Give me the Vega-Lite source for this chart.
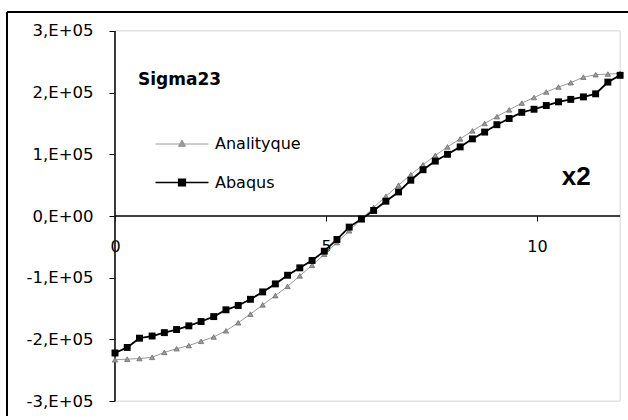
{
  "$schema": "https://vega.github.io/schema/vega-lite/v6.json",
  "width": 621,
  "height": 404,
  "autosize": {"type": "none"},
  "padding": {"left": 7, "top": 12, "right": 0, "bottom": 0},
  "background": "white",
  "config": {
    "view": {"stroke": null},
    "font": "DejaVu Sans",
    "axisX": {"offset": -200, "domain": false, "grid": false, "tickSize": 5, "tickColor": "#000", "labelPadding": 17, "labelFont": "DejaVu Sans", "labelFontSize": 16, "labelColor": "#000", "labelFlush": false, "tickCount": 3},
    "axisY": {"offset": -108, "domain": false, "grid": false, "tickSize": 6, "tickColor": "#000", "labelPadding": 16, "labelFont": "DejaVu Sans", "labelFontSize": 16.5, "labelColor": "#000", "tickCount": 7, "labelExpr": "datum.value == 0 ? '0,E+00' : (datum.value / 100000) + ',E+05'"}
  },
  "datasets": {
    "pts": [
      {"x": 0, "y": -233000, "s": "Analityque"},
      {"x": 0.29, "y": -232000, "s": "Analityque"},
      {"x": 0.58, "y": -231000, "s": "Analityque"},
      {"x": 0.88, "y": -229000, "s": "Analityque"},
      {"x": 1.17, "y": -221000, "s": "Analityque"},
      {"x": 1.46, "y": -215000, "s": "Analityque"},
      {"x": 1.75, "y": -210000, "s": "Analityque"},
      {"x": 2.04, "y": -203000, "s": "Analityque"},
      {"x": 2.34, "y": -196000, "s": "Analityque"},
      {"x": 2.63, "y": -186000, "s": "Analityque"},
      {"x": 2.92, "y": -173000, "s": "Analityque"},
      {"x": 3.21, "y": -159000, "s": "Analityque"},
      {"x": 3.5, "y": -144000, "s": "Analityque"},
      {"x": 3.8, "y": -129000, "s": "Analityque"},
      {"x": 4.09, "y": -114000, "s": "Analityque"},
      {"x": 4.38, "y": -97000, "s": "Analityque"},
      {"x": 4.67, "y": -80000, "s": "Analityque"},
      {"x": 4.96, "y": -62000, "s": "Analityque"},
      {"x": 5.26, "y": -43000, "s": "Analityque"},
      {"x": 5.55, "y": -24000, "s": "Analityque"},
      {"x": 5.84, "y": -5000, "s": "Analityque"},
      {"x": 6.13, "y": 14000, "s": "Analityque"},
      {"x": 6.42, "y": 32000, "s": "Analityque"},
      {"x": 6.72, "y": 50000, "s": "Analityque"},
      {"x": 7.01, "y": 67000, "s": "Analityque"},
      {"x": 7.3, "y": 83000, "s": "Analityque"},
      {"x": 7.59, "y": 98000, "s": "Analityque"},
      {"x": 7.88, "y": 112000, "s": "Analityque"},
      {"x": 8.18, "y": 125000, "s": "Analityque"},
      {"x": 8.47, "y": 138000, "s": "Analityque"},
      {"x": 8.76, "y": 150000, "s": "Analityque"},
      {"x": 9.05, "y": 161000, "s": "Analityque"},
      {"x": 9.34, "y": 172000, "s": "Analityque"},
      {"x": 9.64, "y": 183000, "s": "Analityque"},
      {"x": 9.93, "y": 192000, "s": "Analityque"},
      {"x": 10.22, "y": 201000, "s": "Analityque"},
      {"x": 10.51, "y": 209000, "s": "Analityque"},
      {"x": 10.8, "y": 216000, "s": "Analityque"},
      {"x": 11.1, "y": 225000, "s": "Analityque"},
      {"x": 11.39, "y": 229000, "s": "Analityque"},
      {"x": 11.68, "y": 230000, "s": "Analityque"},
      {"x": 11.97, "y": 231000, "s": "Analityque"},
      {"x": 0, "y": -222000, "s": "Abaqus"},
      {"x": 0.29, "y": -213000, "s": "Abaqus"},
      {"x": 0.58, "y": -198000, "s": "Abaqus"},
      {"x": 0.88, "y": -194500, "s": "Abaqus"},
      {"x": 1.17, "y": -189000, "s": "Abaqus"},
      {"x": 1.46, "y": -184000, "s": "Abaqus"},
      {"x": 1.75, "y": -178000, "s": "Abaqus"},
      {"x": 2.04, "y": -171000, "s": "Abaqus"},
      {"x": 2.34, "y": -163000, "s": "Abaqus"},
      {"x": 2.63, "y": -152000, "s": "Abaqus"},
      {"x": 2.92, "y": -145000, "s": "Abaqus"},
      {"x": 3.21, "y": -135000, "s": "Abaqus"},
      {"x": 3.5, "y": -123000, "s": "Abaqus"},
      {"x": 3.8, "y": -110000, "s": "Abaqus"},
      {"x": 4.09, "y": -96000, "s": "Abaqus"},
      {"x": 4.38, "y": -84000, "s": "Abaqus"},
      {"x": 4.67, "y": -72000, "s": "Abaqus"},
      {"x": 4.96, "y": -57000, "s": "Abaqus"},
      {"x": 5.26, "y": -38000, "s": "Abaqus"},
      {"x": 5.55, "y": -18000, "s": "Abaqus"},
      {"x": 5.84, "y": -5000, "s": "Abaqus"},
      {"x": 6.13, "y": 9000, "s": "Abaqus"},
      {"x": 6.42, "y": 24000, "s": "Abaqus"},
      {"x": 6.72, "y": 39000, "s": "Abaqus"},
      {"x": 7.01, "y": 58000, "s": "Abaqus"},
      {"x": 7.3, "y": 75000, "s": "Abaqus"},
      {"x": 7.59, "y": 89000, "s": "Abaqus"},
      {"x": 7.88, "y": 100000, "s": "Abaqus"},
      {"x": 8.18, "y": 112000, "s": "Abaqus"},
      {"x": 8.47, "y": 125000, "s": "Abaqus"},
      {"x": 8.76, "y": 136000, "s": "Abaqus"},
      {"x": 9.05, "y": 148000, "s": "Abaqus"},
      {"x": 9.34, "y": 158000, "s": "Abaqus"},
      {"x": 9.64, "y": 168000, "s": "Abaqus"},
      {"x": 9.93, "y": 173000, "s": "Abaqus"},
      {"x": 10.22, "y": 179000, "s": "Abaqus"},
      {"x": 10.51, "y": 185000, "s": "Abaqus"},
      {"x": 10.8, "y": 189000, "s": "Abaqus"},
      {"x": 11.1, "y": 193000, "s": "Abaqus"},
      {"x": 11.39, "y": 198000, "s": "Abaqus"},
      {"x": 11.68, "y": 217000, "s": "Abaqus"},
      {"x": 11.97, "y": 228000, "s": "Abaqus"}
    ]
  },
  "layer": [
    {
      "data": {"values": [{}]},
      "mark": {"type": "rule", "color": "#000", "strokeWidth": 2},
      "encoding": {
        "x": {"datum": -2.559, "type": "quantitative", "scale": {"domain": [-2.559, 12.157], "nice": false, "zero": false}, "axis": {"title": null}},
        "y": {"datum": -324100, "type": "quantitative", "scale": {"domain": [-324100, 330600], "nice": false, "zero": false}, "axis": {"title": null}},
        "y2": {"datum": 330600}
      }
    },
    {
      "data": {"values": [{}]},
      "mark": {"type": "rule", "color": "#000", "strokeWidth": 2},
      "encoding": {
        "x": {"datum": -2.559, "type": "quantitative", "scale": {"domain": [-2.559, 12.157], "nice": false, "zero": false}, "axis": {"title": null}},
        "x2": {"datum": 12.157},
        "y": {"datum": 330600, "type": "quantitative", "scale": {"domain": [-324100, 330600], "nice": false, "zero": false}, "axis": {"title": null}}
      }
    },
    {
      "data": {"values": [{}]},
      "mark": {"type": "rect", "filled": false, "color": "#d4d4d4", "strokeWidth": 1},
      "encoding": {
        "x": {"datum": 0, "type": "quantitative", "scale": {"domain": [-2.559, 12.157], "nice": false, "zero": false}, "axis": {"title": null}},
        "x2": {"datum": 11.97},
        "y": {"datum": -300000, "type": "quantitative", "scale": {"domain": [-324100, 330600], "nice": false, "zero": false}, "axis": {"title": null}},
        "y2": {"datum": 300000}
      }
    },
    {
      "data": {"values": [{}]},
      "mark": {"type": "rule", "color": "#000", "strokeWidth": 1.5},
      "encoding": {
        "x": {"datum": 0, "type": "quantitative", "scale": {"domain": [-2.559, 12.157], "nice": false, "zero": false}, "axis": {"title": null}},
        "y": {"datum": -300000, "type": "quantitative", "scale": {"domain": [-324100, 330600], "nice": false, "zero": false}, "axis": {"title": null}},
        "y2": {"datum": 300000}
      }
    },
    {
      "data": {"values": [{}]},
      "mark": {"type": "rule", "color": "#000", "strokeWidth": 1.5},
      "encoding": {
        "x": {"datum": 0, "type": "quantitative", "scale": {"domain": [-2.559, 12.157], "nice": false, "zero": false}, "axis": {"title": null}},
        "x2": {"datum": 11.97},
        "y": {"datum": 0, "type": "quantitative", "scale": {"domain": [-324100, 330600], "nice": false, "zero": false}, "axis": {"title": null}}
      }
    },
    {
      "data": {"name": "pts"},
      "transform": [{"filter": "datum.s === 'Analityque'"}],
      "mark": {"type": "line", "strokeWidth": 1, "point": {"shape": "triangle-up", "filled": true, "size": 28, "stroke": "#6e6e6e", "strokeWidth": 0.8}},
      "encoding": {
        "x": {"field": "x", "type": "quantitative", "scale": {"domain": [-2.559, 12.157], "nice": false, "zero": false}, "axis": {"title": null}},
        "y": {"field": "y", "type": "quantitative", "scale": {"domain": [-324100, 330600], "nice": false, "zero": false}, "axis": {"title": null}},
        "color": {"field": "s", "type": "nominal", "scale": {"domain": ["Analityque", "Abaqus"], "range": ["#9a9a9a", "#000000"]},
          "legend": {"orient": "none", "legendX": 167, "legendY": 124, "title": null, "padding": 0, "symbolType": "M-2,0H2", "symbolSize": 700, "labelFont": "DejaVu Sans", "labelFontSize": 16, "labelColor": "#000", "labelOffset": 25, "rowPadding": 22.5,
            "encode": {"symbols": {"update": {
              "shape": {"signal": "datum.value === 'Abaqus' ? 'M-2,0H2M-0.25,-0.25H0.25V0.25H-0.25Z' : 'M-2,0H2M0,-0.3L0.27,0.18L-0.27,0.18Z'"},
              "stroke": {"signal": "datum.value === 'Abaqus' ? '#000000' : '#8a8a8a'"},
              "strokeWidth": {"signal": "datum.value === 'Abaqus' ? 1.6 : 1"},
              "fill": {"signal": "datum.value === 'Abaqus' ? '#000000' : '#b5b5b5'"},
              "opacity": {"value": 1}
            }}}}}
      }
    },
    {
      "data": {"name": "pts"},
      "transform": [{"filter": "datum.s === 'Abaqus'"}],
      "mark": {"type": "line", "strokeWidth": 1.8, "point": {"shape": "square", "filled": true, "size": 48}},
      "encoding": {
        "x": {"field": "x", "type": "quantitative", "scale": {"domain": [-2.559, 12.157], "nice": false, "zero": false}, "axis": {"title": null}},
        "y": {"field": "y", "type": "quantitative", "scale": {"domain": [-324100, 330600], "nice": false, "zero": false}, "axis": {"title": null}},
        "color": {"field": "s", "type": "nominal", "scale": {"domain": ["Analityque", "Abaqus"], "range": ["#9a9a9a", "#000000"]}}
      }
    },
    {
      "data": {"values": [{}]},
      "mark": {"type": "text", "text": "Sigma23", "align": "left", "baseline": "middle", "font": "DejaVu Sans", "fontWeight": "bold", "fontSize": 17, "color": "#000"},
      "encoding": {
        "x": {"datum": 0.545, "type": "quantitative", "scale": {"domain": [-2.559, 12.157], "nice": false, "zero": false}, "axis": {"title": null}},
        "y": {"datum": 220400, "type": "quantitative", "scale": {"domain": [-324100, 330600], "nice": false, "zero": false}, "axis": {"title": null}}
      }
    },
    {
      "data": {"values": [{}]},
      "mark": {"type": "text", "text": "x2", "align": "left", "baseline": "middle", "font": "Liberation Sans", "fontWeight": "bold", "fontSize": 26, "color": "#000"},
      "encoding": {
        "x": {"datum": 10.59, "type": "quantitative", "scale": {"domain": [-2.559, 12.157], "nice": false, "zero": false}, "axis": {"title": null}},
        "y": {"datum": 63200, "type": "quantitative", "scale": {"domain": [-324100, 330600], "nice": false, "zero": false}, "axis": {"title": null}}
      }
    }
  ]
}
